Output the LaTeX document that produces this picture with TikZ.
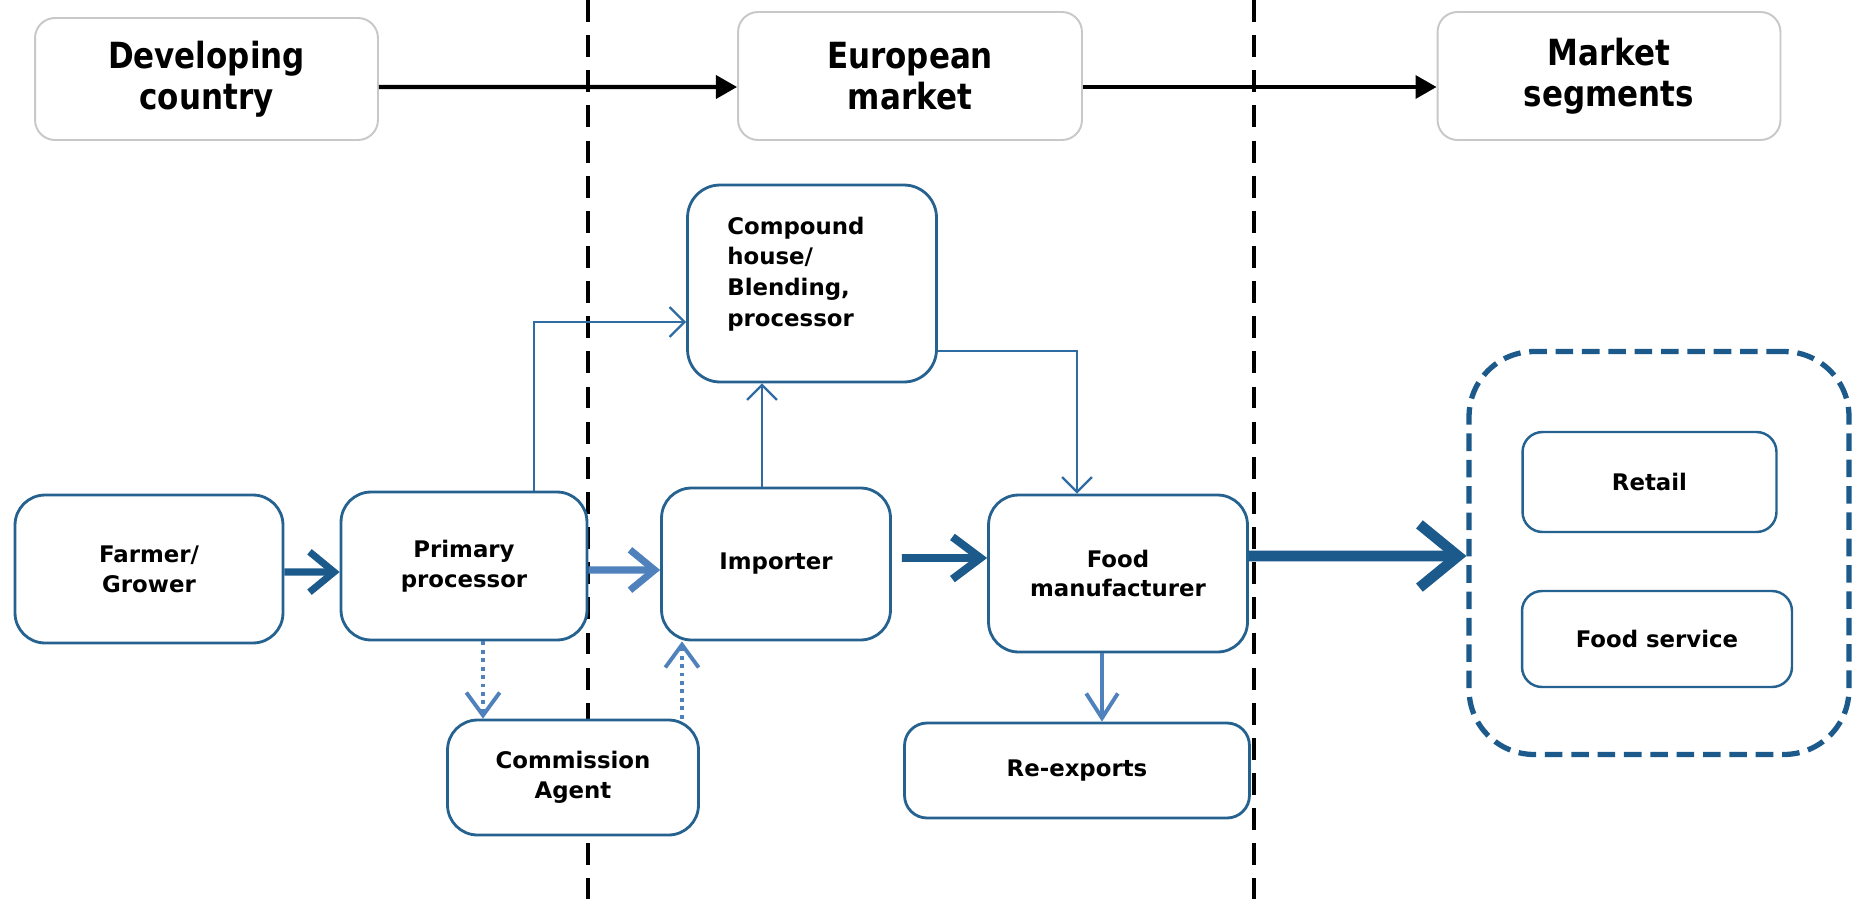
\documentclass[tikz,border=0pt]{standalone}
\usepackage{fontspec}
\setmainfont{DejaVu Sans}
\newfontfamily\hdrfont{DejaVu Sans}[FakeStretch=0.86]
\usetikzlibrary{arrows.meta}

\definecolor{boxblue}{RGB}{38,98,143}
\definecolor{darkflow}{RGB}{28,90,140}
\definecolor{lightflow}{RGB}{79,129,189}
\definecolor{thinblue}{RGB}{46,108,163}
\definecolor{hdrgray}{RGB}{200,200,200}

\tikzset{
  hdr/.style={draw=hdrgray, line width=1.1pt, rounded corners=0.4cm, fill=white,
    align=center, inner sep=0pt,
    font=\hdrfont\bfseries\fontsize{20.5}{23.5}\selectfont},
  bx/.style={draw=boxblue, line width=1.6pt, rounded corners=0.6cm, fill=white,
    align=center, inner sep=0pt,
    font=\bfseries\fontsize{13}{17}\selectfont},
  toparrow/.style={line width=2.3pt, -{Triangle[length=12pt,width=13pt]}},
  thickflow/.style={line width=4pt, -{Straight Barb[length=14pt,width=23pt]}},
  thinflow/.style={draw=thinblue, line width=1.3pt, -{Straight Barb[length=8.5pt,width=17pt]}},
  dotflow/.style={draw=lightflow, line width=2.2pt, dash pattern=on 2.2pt off 2.6pt,
    -{Straight Barb[length=13pt,width=19pt]}},
  sepline/.style={line width=2.3pt, dash pattern=on 12.5pt off 7.5pt},
}

\begin{document}
\begin{tikzpicture}[x=0.02cm, y=-0.02cm]
\fill[white] (0,0) rectangle (1852,899);
\useasboundingbox (0,0) rectangle (1852,899);

% separators between the three stages
\coordinate (sepAtop) at (588,0);
\coordinate (sepAbot) at (588,899);
\coordinate (sepBtop) at (1254,0);
\coordinate (sepBbot) at (1254,899);
\draw[sepline] (sepAtop) -- (sepAbot);
\draw[sepline] (sepBtop) -- (sepBbot);

% stage headers
\node[hdr, minimum width=6.86cm, minimum height=2.44cm] (dev) at (206.5,79) {Developing\\country};
\node[hdr, minimum width=6.88cm, minimum height=2.56cm] (eur) at (910,76) {European\\market};
\node[hdr, minimum width=6.86cm, minimum height=2.56cm] (mkt) at (1609,76) {Market\\segments};

\draw[toparrow] ([yshift=-0.16cm]dev.east) -- ([yshift=-0.22cm]eur.west);
\draw[toparrow] ([yshift=-0.22cm]eur.east) -- ([yshift=-0.22cm]mkt.west);

% supply chain actors
\node[bx, minimum width=5.36cm, minimum height=2.96cm] (farmer) at (149,569) {Farmer/\\Grower};
\node[bx, minimum width=4.92cm, minimum height=2.96cm] (primary) at (464,566) {Primary\\processor};
\node[bx, minimum width=4.58cm, minimum height=3.04cm] (importer) at (776,564) {Importer};
\node[bx, minimum width=5.18cm, minimum height=3.14cm] (food) at (1118,573.5) {Food\\manufacturer};
\node[bx, rounded corners=0.65cm, minimum width=4.98cm, minimum height=3.94cm] (compound) at (812,283.5) {};
\node[anchor=west, align=left, inner sep=0pt, font=\bfseries\fontsize{13}{17.5}\selectfont]
  (compoundtext) at (727,274) {Compound\\house/\\Blending,\\processor};
\node[bx, minimum width=5.02cm, minimum height=2.3cm] (commission) at (573,777.5) {Commission\\Agent};
\node[bx, rounded corners=0.45cm, minimum width=6.9cm, minimum height=1.9cm] (reexp) at (1077,770.5) {Re-exports};

% market segments group
\node[draw=darkflow, line width=3pt, dash pattern=on 10pt off 5pt, rounded corners=1.3cm,
  fill=white, minimum width=7.6cm, minimum height=8.06cm] (group) at (1659,553) {};
\node[bx, line width=1.4pt, rounded corners=0.4cm, minimum width=5.08cm, minimum height=2cm] (retail) at (1649.5,482) {Retail};
\node[bx, line width=1.4pt, rounded corners=0.4cm, minimum width=5.4cm, minimum height=1.92cm] (foodsvc) at (1657,639) {Food service};

% main product flow
\draw[thickflow, draw=darkflow] ([yshift=-0.06cm]farmer.east) -- ([yshift=-0.12cm]primary.west);
\draw[thickflow, draw=lightflow] ([yshift=-0.08cm]primary.east) -- ([yshift=-0.12cm]importer.west);
\draw[thickflow, draw=darkflow, line width=4.5pt, -{Straight Barb[length=16pt,width=24pt]}]
  ([xshift=0.2cm, yshift=0.12cm]importer.east) -- ([yshift=0.31cm]food.west);
\draw[darkflow, line width=6pt, -{Straight Barb[length=22pt,width=36pt]}]
  ([yshift=0.35cm]food.east) -- ([yshift=-0.06cm]group.west);

% side flows
\draw[thinflow] ([xshift=1.4cm]primary.north) |- ([yshift=-0.77cm]compound.west);
\coordinate (ip) at ([xshift=-0.28cm]importer.north);
\draw[thinflow] (ip) -- (ip |- compound.south);
\draw[thinflow] ([yshift=-1.35cm]compound.east) -| ([xshift=-0.82cm]food.north);
\coordinate (fr) at ([xshift=-0.32cm]food.south);
\draw[draw=lightflow, line width=2.2pt, -{Straight Barb[length=14pt,width=18pt]}] (fr) -- (fr |- reexp.north);

% commission agent flows
\coordinate (pc) at ([xshift=0.38cm]primary.south);
\draw[dotflow] (pc) -- (pc |- commission.north);
\coordinate (ci) at ([xshift=2.18cm]commission.north);
\draw[dotflow] (ci) -- (ci |- importer.south);
\end{tikzpicture}
\end{document}
